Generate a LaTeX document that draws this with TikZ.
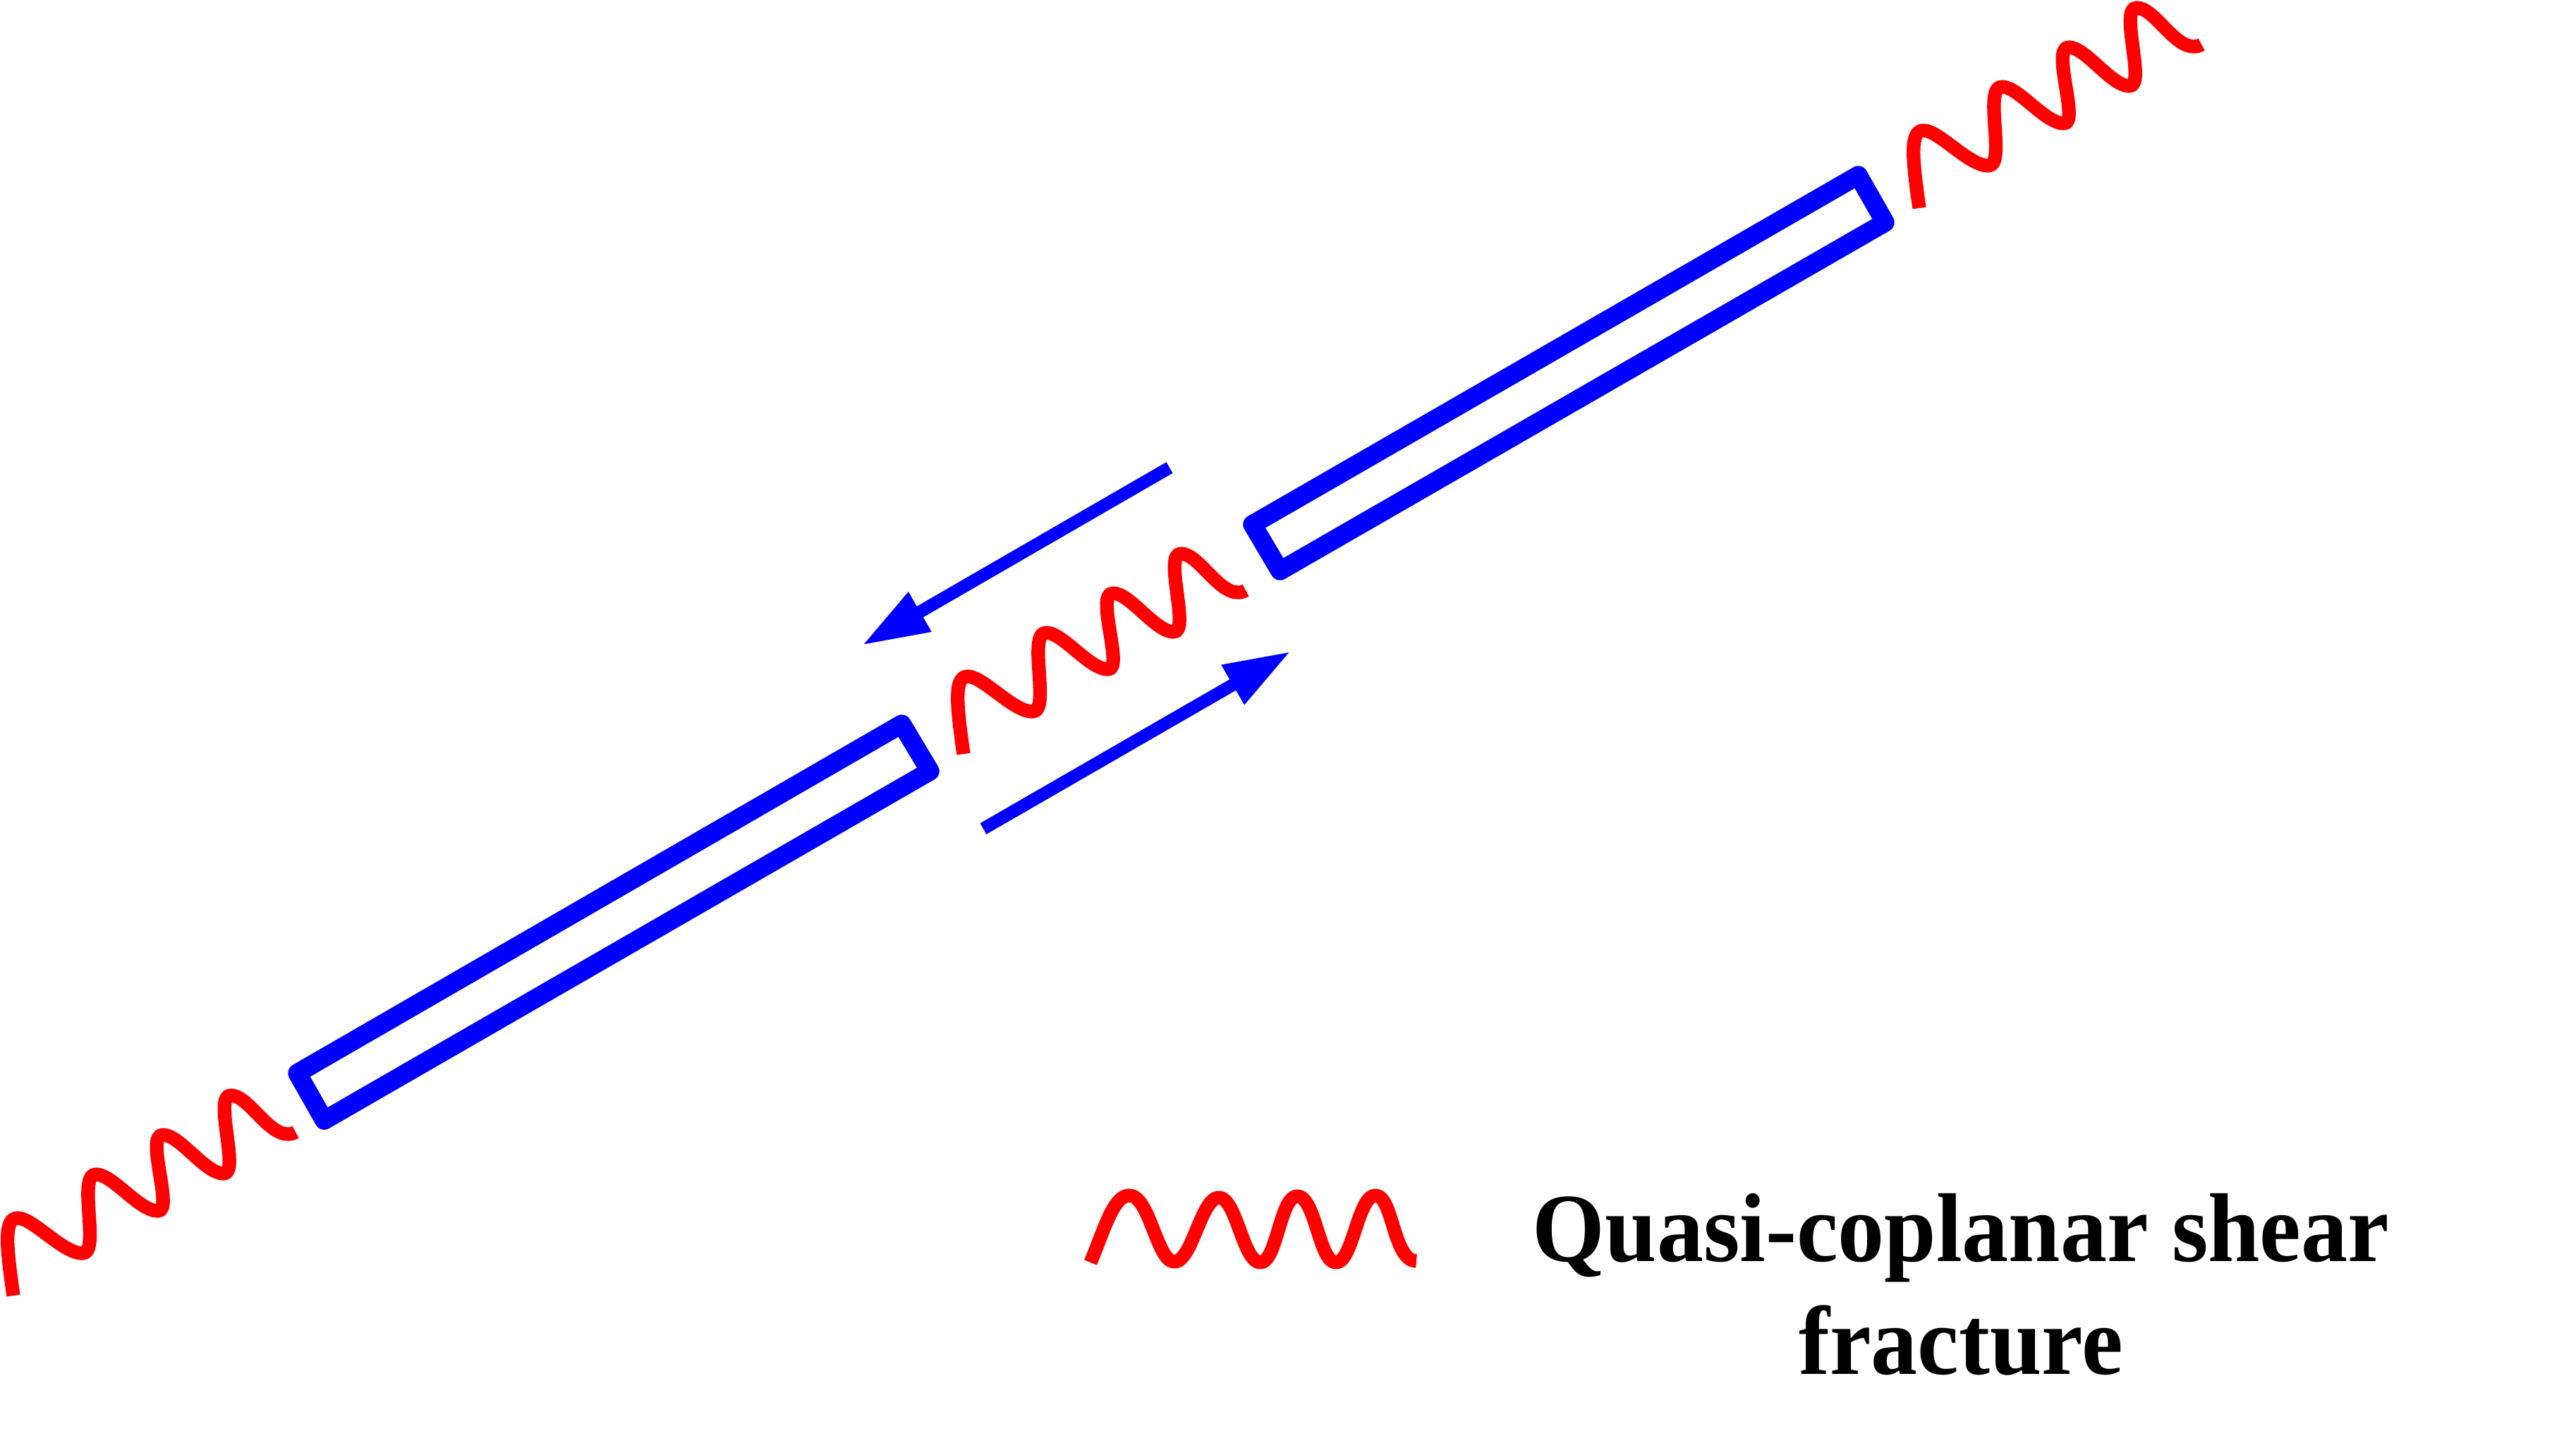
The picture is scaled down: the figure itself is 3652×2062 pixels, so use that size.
\documentclass[tikz,border=0pt]{standalone}
\usepackage{fontspec}
\setmainfont{Liberation Serif}
\usetikzlibrary{arrows.meta}
\tikzset{
  redwave/.style={draw=red,line width=5.5pt,line cap=butt,line join=round},
  bluebox/.style={draw=blue,line width=7.6pt,line join=round},
  bluearrow/.style={draw=blue,line width=5.1pt,-{Triangle[length=0.95cm,width=0.6cm]},blue},
  legendtext/.style={align=center,inner sep=0pt,yscale=1.05,transform shape,font=\fontsize{37.55}{43.3}\selectfont\bfseries}
}
\newcommand{\tiltedwave}{(0,0) .. controls (-10,-70) and (-14,-110) .. (6,-110)
  .. controls (28,-110) and (70,-60) .. (98,-60)
  .. controls (124,-60) and (90,-172) .. (117,-172)
  .. controls (141,-172) and (178,-120) .. (205,-120)
  .. controls (228,-120) and (186,-228) .. (212,-228)
  .. controls (236,-228) and (272,-173) .. (298,-173)
  .. controls (322,-173) and (283,-284) .. (308,-284)
  .. controls (333,-284) and (360,-229) .. (389,-229)
  .. controls (393,-229) and (397,-230) .. (400,-232)}
\begin{document}
\begin{tikzpicture}[x=0.01cm,y=-0.01cm]
\useasboundingbox (0,0) rectangle (3652,2062);
% fracture boxes
\draw[bluebox] (421.6,1521.6) -- (459.6,1588.4) -- (1318.4,1093.4) -- (1278.4,1026.6) -- cycle;
\draw[bluebox] (1775.6,743.6) -- (1814.6,809.4) -- (2672.4,315.4) -- (2634.4,248.6) -- cycle;
% tilted waves
\draw[redwave,shift={(19,1837)}] \tiltedwave;
\draw[redwave,shift={(1366,1069)}] \tiltedwave;
\draw[redwave,shift={(2721,295)}] \tiltedwave;
% shear arrows
\coordinate (upTail) at (1658,663);
\coordinate (upTip) at (1222,915);
\coordinate (lowTail) at (1394,1175);
\coordinate (lowTip) at (1830,923.5);
\draw[bluearrow] (upTail) -- (upTip);
\draw[bluearrow] (lowTail) -- (lowTip);
% legend
\draw[redwave] (1546,1790) .. controls (1565,1745) and (1578,1695) .. (1601,1695)
  .. controls (1630,1695) and (1640,1789) .. (1665,1789)
  .. controls (1690,1789) and (1703,1698) .. (1728,1698)
  .. controls (1753,1698) and (1762,1790) .. (1787,1790)
  .. controls (1810,1790) and (1815,1696) .. (1839,1696)
  .. controls (1865,1696) and (1870,1790) .. (1894,1790)
  .. controls (1918,1790) and (1925,1695) .. (1950,1695)
  .. controls (1975,1695) and (1975,1788) .. (2008,1788);
\node[legendtext] (label) at (2780,1821) {Quasi-coplanar shear\\fracture};
\end{tikzpicture}
\end{document}
